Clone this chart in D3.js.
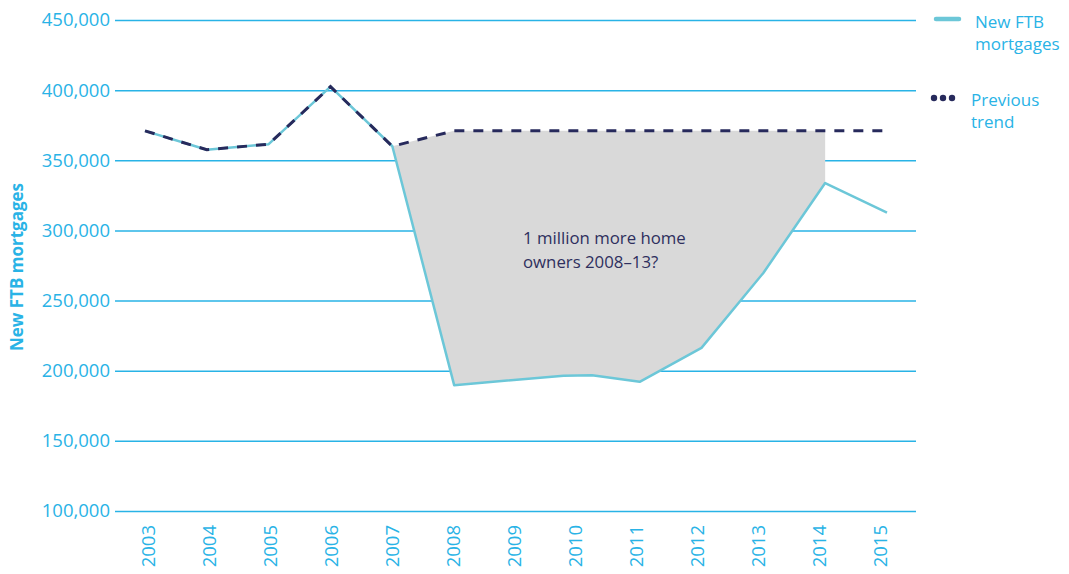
<!DOCTYPE html>
<html>
<head>
  <meta charset="utf-8">
  <script src="https://d3js.org/d3.v7.min.js"></script>
  <style>
    body { margin: 0; background: #fff; }
    text { font-family: "Open Sans", "Noto Sans", sans-serif; }
  </style>
</head>
<body>
  <div id="my_dataviz"></div>
<script>

  // data
  var years = [2003, 2004, 2005, 2006, 2007, 2008, 2009, 2010, 2011, 2012, 2013, 2014, 2015];
  var yTicks = [100000, 150000, 200000, 250000, 300000, 350000, 400000, 450000];

  // new FTB mortgages (x in years; a short flat stretch around 2010)
  var ftbX = [2003, 2004, 2005, 2006, 2007, 2008, 2009.77, 2010.23, 2011, 2012, 2013, 2014, 2015];
  var ftbY = [371000, 357500, 361500, 402500, 360000, 189700, 196400, 196800, 192100, 216300, 269700, 333800, 312700];

  // previous trend
  var trendX = [2003, 2004, 2005, 2006, 2007, 2008, 2009, 2010, 2011, 2012, 2013, 2014, 2015];
  var trendY = [371000, 357500, 361500, 402500, 360000, 371000, 371000, 371000, 371000, 371000, 371000, 371000, 371000];

  var ftb = ftbX.map(function(d, i) { return {year: d, value: ftbY[i]}; });
  var trend = trendX.map(function(d, i) { return {year: d, value: trendY[i]}; });

  var width = 1069, height = 574;
  var blue = "#29b3e6", teal = "#6cc7d8", navy = "#272a5c";

  var svg = d3.select("#my_dataviz")
    .append("svg")
      .attr("width", width)
      .attr("height", height);

  var x = d3.scaleLinear().domain([2003, 2015]).range([145, 887]);
  var xLabel = d3.scaleLinear().domain([2003, 2015]).range([148, 880]);
  var y = d3.scaleLinear().domain([100000, 450000]).range([511, 20]);

  // gridlines + y labels
  var yAxis = svg.append("g")
      .attr("transform", "translate(916,0)")
      .call(d3.axisLeft(y).tickValues(yTicks).tickSize(801).tickPadding(5)
        .tickFormat(d3.format(",")));
  yAxis.select(".domain").remove();
  yAxis.selectAll("line").attr("stroke", blue).attr("stroke-width", 1.5);
  yAxis.selectAll("text").attr("fill", blue).style("font-size", "18.5px");

  // x labels, rotated
  svg.append("g").selectAll("text")
    .data(years)
    .join("text")
      .attr("transform", function(d) { return "translate(" + (xLabel(d) + 7) + ",525) rotate(-90)"; })
      .attr("text-anchor", "end")
      .attr("fill", blue)
      .style("font-size", "18.5px")
      .text(function(d) { return d; });

  // y title
  svg.append("text")
    .attr("transform", "translate(23,267) rotate(-90)")
    .attr("text-anchor", "middle")
    .attr("fill", blue)
    .style("font-size", "17px")
    .style("font-weight", "bold")
    .text("New FTB mortgages");

  // shaded gap between trend and actual, 2007 to 2014
  var upper = trend.filter(function(d) { return d.year >= 2007 && d.year <= 2014; });
  var lower = ftb.filter(function(d) { return d.year >= 2007 && d.year <= 2014; }).reverse();
  var line = d3.line()
    .x(function(d) { return x(d.year); })
    .y(function(d) { return y(d.value); });

  svg.append("path")
    .datum(upper.concat(lower))
    .attr("fill", "#d9d9d9")
    .attr("d", function(d) { return line(d) + "Z"; });

  svg.append("path")
    .datum(ftb)
    .attr("fill", "none")
    .attr("stroke", teal)
    .attr("stroke-width", 2.5)
    .attr("stroke-linejoin", "round")
    .attr("d", line);

  svg.append("path")
    .datum(trend)
    .attr("fill", "none")
    .attr("stroke", navy)
    .attr("stroke-width", 3)
    .attr("stroke-dasharray", "10,9")
    .attr("d", line);

  // annotation
  var note = svg.append("text")
    .attr("x", 523)
    .attr("y", 244)
    .attr("fill", "#2e2f5e")
    .style("font-size", "16.8px");
  note.append("tspan").attr("x", 523).text("1 million more home");
  note.append("tspan").attr("x", 523).attr("dy", 24).text("owners 2008\u201313?");

  // legend
  var legend = svg.append("g");
  legend.append("line")
    .attr("x1", 936).attr("x2", 959).attr("y1", 19).attr("y2", 19)
    .attr("stroke", teal).attr("stroke-width", 4.5).attr("stroke-linecap", "round");
  var l1 = legend.append("text").attr("x", 975).attr("y", 28).attr("fill", blue).style("font-size", "17px");
  l1.append("tspan").attr("x", 975).text("New FTB");
  l1.append("tspan").attr("x", 975).attr("dy", 22).text("mortgages");

  legend.selectAll("circle")
    .data([0, 1, 2])
    .join("circle")
      .attr("cx", function(d) { return 934 + d * 9; })
      .attr("cy", 98)
      .attr("r", 3.2)
      .attr("fill", navy);
  var l2 = legend.append("text").attr("x", 971).attr("y", 106).attr("fill", blue).style("font-size", "17px");
  l2.append("tspan").attr("x", 971).text("Previous");
  l2.append("tspan").attr("x", 971).attr("dy", 22).text("trend");

</script>
</body>
</html>
